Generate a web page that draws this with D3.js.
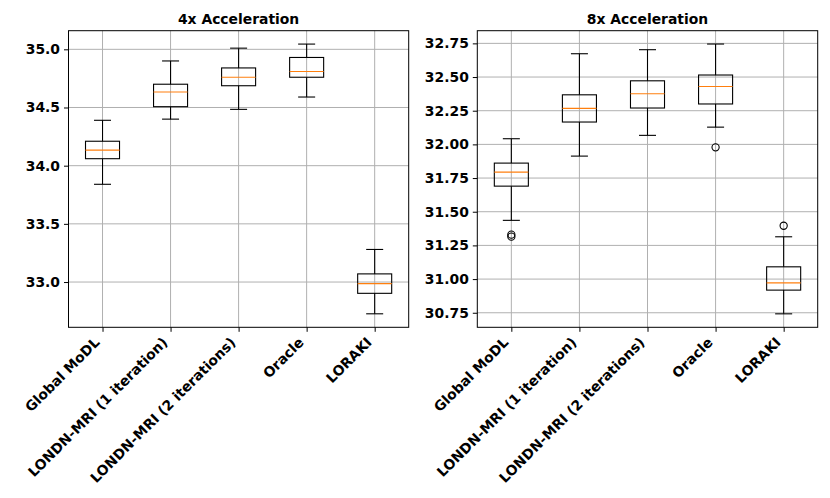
<!DOCTYPE html>
<html>
<head>
<meta charset="utf-8">
<script src="https://cdn.jsdelivr.net/npm/d3@7"></script>
<style>
body { margin: 0; background: #fff; }
text { font-family: "DejaVu Sans", sans-serif; font-weight: bold; }
</style>
</head>
<body>
<script>
// categories shared by both panels
var methods = ["Global MoDL", "LONDN-MRI (1 iteration)", "LONDN-MRI (2 iterations)", "Oracle", "LORAKI"];

// 4x acceleration box stats
var lo4  = [33.84, 34.40, 34.484, 34.59, 32.727];
var q1_4 = [34.06, 34.507, 34.687, 34.76, 32.903];
var med4 = [34.134, 34.633, 34.76, 34.81, 32.986];
var q3_4 = [34.21, 34.70, 34.84, 34.93, 33.07];
var hi4  = [34.39, 34.90, 35.01, 35.045, 33.28];
var out4 = [[], [], [], [], []];
var ticks4 = [33.0, 33.5, 34.0, 34.5, 35.0];

// 8x acceleration box stats
var lo8  = [31.436, 31.913, 32.067, 32.128, 30.742];
var q1_8 = [31.69, 32.166, 32.27, 32.30, 30.918];
var med8 = [31.794, 32.267, 32.376, 32.43, 30.972];
var q3_8 = [31.861, 32.368, 32.472, 32.515, 31.091];
var hi8  = [32.042, 32.673, 32.703, 32.745, 31.314];
var out8 = [[31.33, 31.315], [], [], [31.978], [31.396]];
var ticks8 = [30.75, 31.00, 31.25, 31.50, 31.75, 32.00, 32.25, 32.50, 32.75];

var W = 830, H = 498, FS = "13.9px";
var svg = d3.select("body").append("svg").attr("width", W).attr("height", H);

function draw_panel(opt)
{
    var g = svg.append("g");
    var x = d3.scaleLinear().domain([0.5, methods.length + 0.5]).range([opt.left, opt.right]);
    var y = d3.scaleLinear().domain(opt.ydom).range([opt.bottom, opt.top]);

    // grid
    g.selectAll(".gx").data(methods).enter().append("line")
        .attr("x1", function(d, i) { return x(i + 1); })
        .attr("x2", function(d, i) { return x(i + 1); })
        .attr("y1", opt.top).attr("y2", opt.bottom)
        .attr("stroke", "#b0b0b0").attr("stroke-width", 1);
    g.selectAll(".gy").data(opt.ticks).enter().append("line")
        .attr("x1", opt.left).attr("x2", opt.right)
        .attr("y1", function(d) { return y(d); })
        .attr("y2", function(d) { return y(d); })
        .attr("stroke", "#b0b0b0").attr("stroke-width", 1);

    // boxes
    var bw = x(1.25) - x(1), cw = x(1.125) - x(1);
    methods.forEach(function(m, i) {
        var cx = x(i + 1);
        var b = g.append("g").attr("stroke", "#000").attr("stroke-width", 1.1).attr("fill", "none");
        b.append("line").attr("x1", cx).attr("x2", cx).attr("y1", y(opt.lo[i])).attr("y2", y(opt.q1[i]));
        b.append("line").attr("x1", cx).attr("x2", cx).attr("y1", y(opt.q3[i])).attr("y2", y(opt.hi[i]));
        b.append("line").attr("x1", cx - cw).attr("x2", cx + cw).attr("y1", y(opt.lo[i])).attr("y2", y(opt.lo[i]));
        b.append("line").attr("x1", cx - cw).attr("x2", cx + cw).attr("y1", y(opt.hi[i])).attr("y2", y(opt.hi[i]));
        b.append("rect").attr("x", cx - bw).attr("width", 2 * bw)
            .attr("y", y(opt.q3[i])).attr("height", y(opt.q1[i]) - y(opt.q3[i]));
        b.append("line").attr("x1", cx - bw).attr("x2", cx + bw)
            .attr("y1", y(opt.med[i])).attr("y2", y(opt.med[i]))
            .attr("stroke", "#ff7f0e");
        opt.out[i].forEach(function(v) {
            b.append("circle").attr("cx", cx).attr("cy", y(v)).attr("r", 3.6);
        });
    });

    // frame
    g.append("rect").attr("x", opt.left).attr("y", opt.top)
        .attr("width", opt.right - opt.left).attr("height", opt.bottom - opt.top)
        .attr("fill", "none").attr("stroke", "#000").attr("stroke-width", 1);

    // y axis
    var ya = g.append("g").attr("transform", "translate(" + opt.left + ",0)")
        .call(d3.axisLeft(y).tickValues(opt.ticks).tickFormat(d3.format(opt.fmt)).tickSize(4.5).tickPadding(4));
    ya.select(".domain").remove();
    ya.selectAll("text").attr("font-size", FS).attr("fill", "#000")
        .style("font-family", "DejaVu Sans").style("font-weight", "bold");

    // x axis
    var xa = g.append("g").attr("transform", "translate(0," + opt.bottom + ")")
        .call(d3.axisBottom(x).tickValues(d3.range(1, methods.length + 1)).tickFormat("").tickSize(4.5));
    xa.select(".domain").remove();
    g.selectAll(".xl").data(methods).enter().append("text")
        .attr("transform", function(d, i) {
            return "translate(" + (x(i + 1) - 2) + "," + (opt.bottom + 16) + ") rotate(-45)";
        })
        .attr("text-anchor", "end")
        .attr("font-size", FS)
        .text(function(d) { return d; });

    // title
    g.append("text").attr("x", (opt.left + opt.right) / 2).attr("y", 24)
        .attr("text-anchor", "middle").attr("font-size", FS)
        .text(opt.title);
}

draw_panel({left: 68.5, right: 408.7, top: 30.7, bottom: 327.3, ydom: [32.611, 35.16],
    lo: lo4, q1: q1_4, med: med4, q3: q3_4, hi: hi4, out: out4,
    ticks: ticks4, fmt: ".1f", title: "4x Acceleration"});
draw_panel({left: 477.3, right: 817.7, top: 30.7, bottom: 327.3, ydom: [30.642, 32.844],
    lo: lo8, q1: q1_8, med: med8, q3: q3_8, hi: hi8, out: out8,
    ticks: ticks8, fmt: ".2f", title: "8x Acceleration"});
</script>
</body>
</html>
